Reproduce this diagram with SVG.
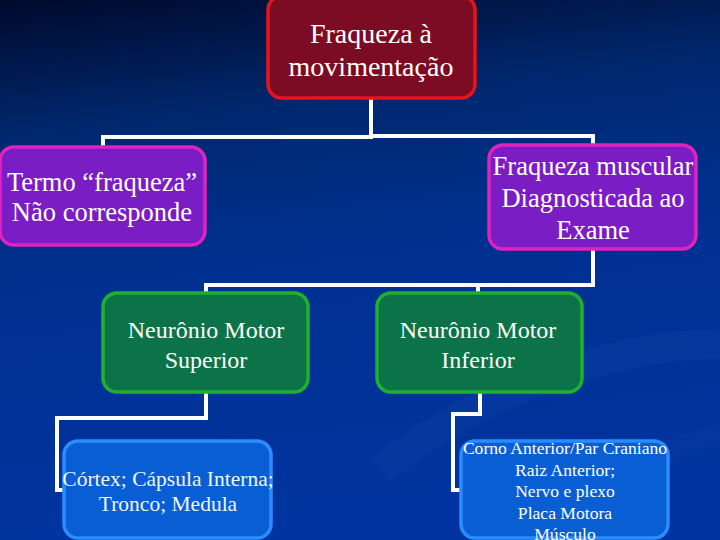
<svg xmlns="http://www.w3.org/2000/svg" width="720" height="540" viewBox="0 0 720 540">
<defs>
<linearGradient id="bg" x1="0" y1="0" x2="0.15" y2="1">
<stop offset="0" stop-color="#000a2c"/>
<stop offset="0.25" stop-color="#00286f"/>
<stop offset="0.5" stop-color="#00308e"/>
<stop offset="1" stop-color="#0034a0"/>
</linearGradient>
<style>
.n{stroke-width:3.5}
.red{fill:#7c0b24;stroke:#e8141c}
.pur{fill:#7a1dc4;stroke:#e022c0}
.grn{fill:#0c7248;stroke:#20b02e}
.blu{fill:#0a5ed4;stroke:#2b8cff}
.t{font-family:'Liberation Serif','DejaVu Serif',serif;fill:#ffffff;text-anchor:middle}
.tb{fill:#eef6ff}
.c{fill:none;stroke:#ffffff;stroke-width:4}
</style>
</defs>
<rect width="720" height="540" fill="url(#bg)"/>
<path d="M380,470 C520,360 700,330 760,350" fill="none" stroke="#1a4cb0" stroke-opacity="0.18" stroke-width="30"/>
<path d="M560,540 C600,470 680,440 740,430" fill="none" stroke="#1a4cb0" stroke-opacity="0.12" stroke-width="20"/>
<g id="connectors">
<polyline class="c" points="371,99 371,137 103,137 103,148"/>
<polyline class="c" points="371,136 593,136 593,146"/>
<polyline class="c" points="593,249 593,285 206,285 206,293"/>
<polyline class="c" points="478,285 478,293"/>
<polyline class="c" points="206,393 206,418 57,418 57,490 66,490"/>
<polyline class="c" points="480,393 480,414 453,414 453,490 462,490"/>
</g>
<g id="n1">
<rect class="n red" x="268" y="-4" width="207" height="102" rx="14"/>
<text class="t" font-family="Liberation Serif, DejaVu Serif, serif" x="371" y="43" font-size="28">Fraqueza à</text>
<text class="t" font-family="Liberation Serif, DejaVu Serif, serif" x="371" y="76" font-size="28">movimentação</text>
</g>
<g id="n2">
<rect class="n pur" x="0" y="147" width="205" height="98" rx="14"/>
<text class="t" font-family="Liberation Serif, DejaVu Serif, serif" x="102" y="191" font-size="26.5">Termo “fraqueza”</text>
<text class="t" font-family="Liberation Serif, DejaVu Serif, serif" x="102" y="221" font-size="26.5">Não corresponde</text>
</g>
<g id="n3">
<rect class="n pur" x="489" y="145" width="207" height="104" rx="14"/>
<text class="t" font-family="Liberation Serif, DejaVu Serif, serif" x="593" y="175" font-size="26.5">Fraqueza muscular</text>
<text class="t" font-family="Liberation Serif, DejaVu Serif, serif" x="593" y="207" font-size="26.5">Diagnosticada ao</text>
<text class="t" font-family="Liberation Serif, DejaVu Serif, serif" x="593" y="239" font-size="26.5">Exame</text>
</g>
<g id="n4">
<rect class="n grn" x="103" y="293" width="205" height="99" rx="14"/>
<text class="t" font-family="Liberation Serif, DejaVu Serif, serif" x="206" y="338" font-size="24">Neurônio Motor</text>
<text class="t" font-family="Liberation Serif, DejaVu Serif, serif" x="206" y="368" font-size="24">Superior</text>
</g>
<g id="n5">
<rect class="n grn" x="377" y="293" width="205" height="99" rx="14"/>
<text class="t" font-family="Liberation Serif, DejaVu Serif, serif" x="478" y="338" font-size="24">Neurônio Motor</text>
<text class="t" font-family="Liberation Serif, DejaVu Serif, serif" x="478" y="368" font-size="24">Inferior</text>
</g>
<g id="n6">
<rect class="n blu" x="64" y="441" width="207" height="97" rx="14"/>
<text class="t tb" font-family="Liberation Serif, DejaVu Serif, serif" x="168" y="486" font-size="21.5">Córtex; Cápsula Interna;</text>
<text class="t tb" font-family="Liberation Serif, DejaVu Serif, serif" x="168" y="511" font-size="21.5">Tronco; Medula</text>
</g>
<g id="n7">
<rect class="n blu" x="461" y="441" width="207" height="97" rx="14"/>
<text class="t" font-family="Liberation Serif, DejaVu Serif, serif" x="565" y="454" font-size="17.6">Corno Anterior/Par Craniano</text>
<text class="t" font-family="Liberation Serif, DejaVu Serif, serif" x="565" y="475.5" font-size="17.6">Raiz Anterior;</text>
<text class="t" font-family="Liberation Serif, DejaVu Serif, serif" x="565" y="497" font-size="17.6">Nervo e plexo</text>
<text class="t" font-family="Liberation Serif, DejaVu Serif, serif" x="565" y="518.5" font-size="17.6">Placa Motora</text>
<text class="t" font-family="Liberation Serif, DejaVu Serif, serif" x="565" y="540" font-size="17.6">Músculo</text>
</g>
</svg>
